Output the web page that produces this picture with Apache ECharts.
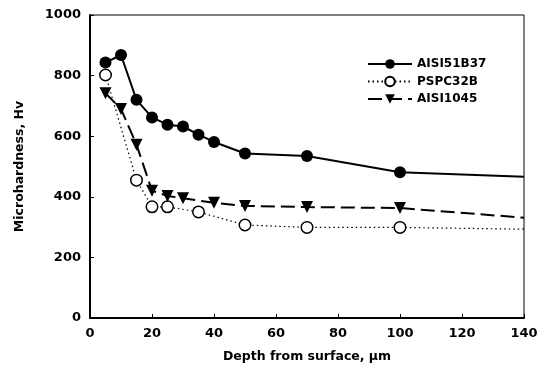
<!DOCTYPE html>
<html>
<head>
<meta charset="utf-8">
<script src="https://cdn.jsdelivr.net/npm/echarts@6/dist/echarts.min.js"></script>
<style>
html,body{margin:0;padding:0;background:#fff;}
#c{width:551px;height:373px;}
</style>
</head>
<body>
<div id="c"></div>
<script>
// Data
const seriesNames = ['AISI51B37', 'PSPC32B', 'AISI1045'];
const depthAISI51B37 = [5, 10, 15, 20, 25, 30, 35, 40, 50, 70, 100, 140];
const hvAISI51B37   = [843, 868, 720, 662, 638, 632, 605, 581, 543, 535, 481, 466];
const depthPSPC32B  = [5, 15, 20, 25, 35, 50, 70, 100, 140];
const hvPSPC32B     = [802, 455, 367, 367, 350, 307, 299, 299, 293];
const depthAISI1045 = [5, 10, 15, 20, 25, 30, 40, 50, 70, 100, 140];
const hvAISI1045    = [742, 690, 572, 420, 403, 395, 380, 370, 366, 363, 331];
const xTicks = [0, 20, 40, 60, 80, 100, 120, 140];
const yTicks = [0, 200, 400, 600, 800, 1000];

const FONT = 'DejaVu Sans';

function build(depths, vals) {
  return depths.map((d, i) => {
    // the last point is only the end of the trend line, drawn without a marker
    if (i === depths.length - 1) return { value: [d, vals[i]], symbol: 'none' };
    return [d, vals[i]];
  });
}

const chart = echarts.init(document.getElementById('c'), null, { renderer: 'canvas' });
chart.setOption({
  backgroundColor: '#fff',
  animation: false,
  grid: { left: 90, right: 27, top: 15, bottom: 55, show: true, borderColor: '#000', borderWidth: 1 },
  legend: {
    orient: 'vertical',
    left: 362, top: 53,
    itemWidth: 44, itemHeight: 12, itemGap: 5.5,
    textStyle: { fontFamily: FONT, fontWeight: 'bold', fontSize: 12, color: '#000' },
    data: seriesNames
  },
  xAxis: {
    type: 'value', min: xTicks[0], max: xTicks[xTicks.length - 1], interval: 20,
    name: 'Depth from surface, \u00b5m', nameLocation: 'middle', nameGap: 32,
    nameTextStyle: { fontFamily: FONT, fontWeight: 'bold', fontSize: 12.5, color: '#000' },
    axisLine: { lineStyle: { color: '#000', width: 2 } },
    axisTick: { inside: true, length: 4, lineStyle: { color: '#000', width: 1 } },
    axisLabel: { fontFamily: FONT, fontWeight: 'bold', fontSize: 13, color: '#000', margin: 9,
                 formatter: v => String(v) },
    splitLine: { show: false }
  },
  yAxis: {
    type: 'value', min: yTicks[0], max: yTicks[yTicks.length - 1], interval: 200,
    name: 'Microhardness, Hv', nameLocation: 'middle', nameGap: 64, nameRotate: 90,
    nameTextStyle: { fontFamily: FONT, fontWeight: 'bold', fontSize: 12.5, color: '#000' },
    axisLine: { lineStyle: { color: '#000', width: 2 } },
    axisTick: { inside: true, length: 4, lineStyle: { color: '#000', width: 1 } },
    axisLabel: { fontFamily: FONT, fontWeight: 'bold', fontSize: 13, color: '#000', margin: 9,
                 formatter: v => String(v) },
    splitLine: { show: false }
  },
  series: [
    {
      name: seriesNames[0], type: 'line', data: build(depthAISI51B37, hvAISI51B37),
      symbol: 'circle', symbolSize: 12,
      lineStyle: { color: '#000', width: 2 },
      itemStyle: { color: '#000' }, z: 3
    },
    {
      name: seriesNames[1], type: 'line', data: build(depthPSPC32B, hvPSPC32B),
      symbol: 'circle', symbolSize: 11.5, showAllSymbol: true,
      lineStyle: { color: '#000', width: 1.2, type: [1.5, 3] },
      itemStyle: { color: '#fff', borderColor: '#000', borderWidth: 1.5 }, z: 2
    },
    {
      name: seriesNames[2], type: 'line', data: build(depthAISI1045, hvAISI1045),
      symbol: 'triangle', symbolRotate: 180, symbolSize: 12,
      lineStyle: { color: '#000', width: 2, type: [14, 6] },
      itemStyle: { color: '#000' }, z: 3
    }
  ]
});
</script>
</body>
</html>
